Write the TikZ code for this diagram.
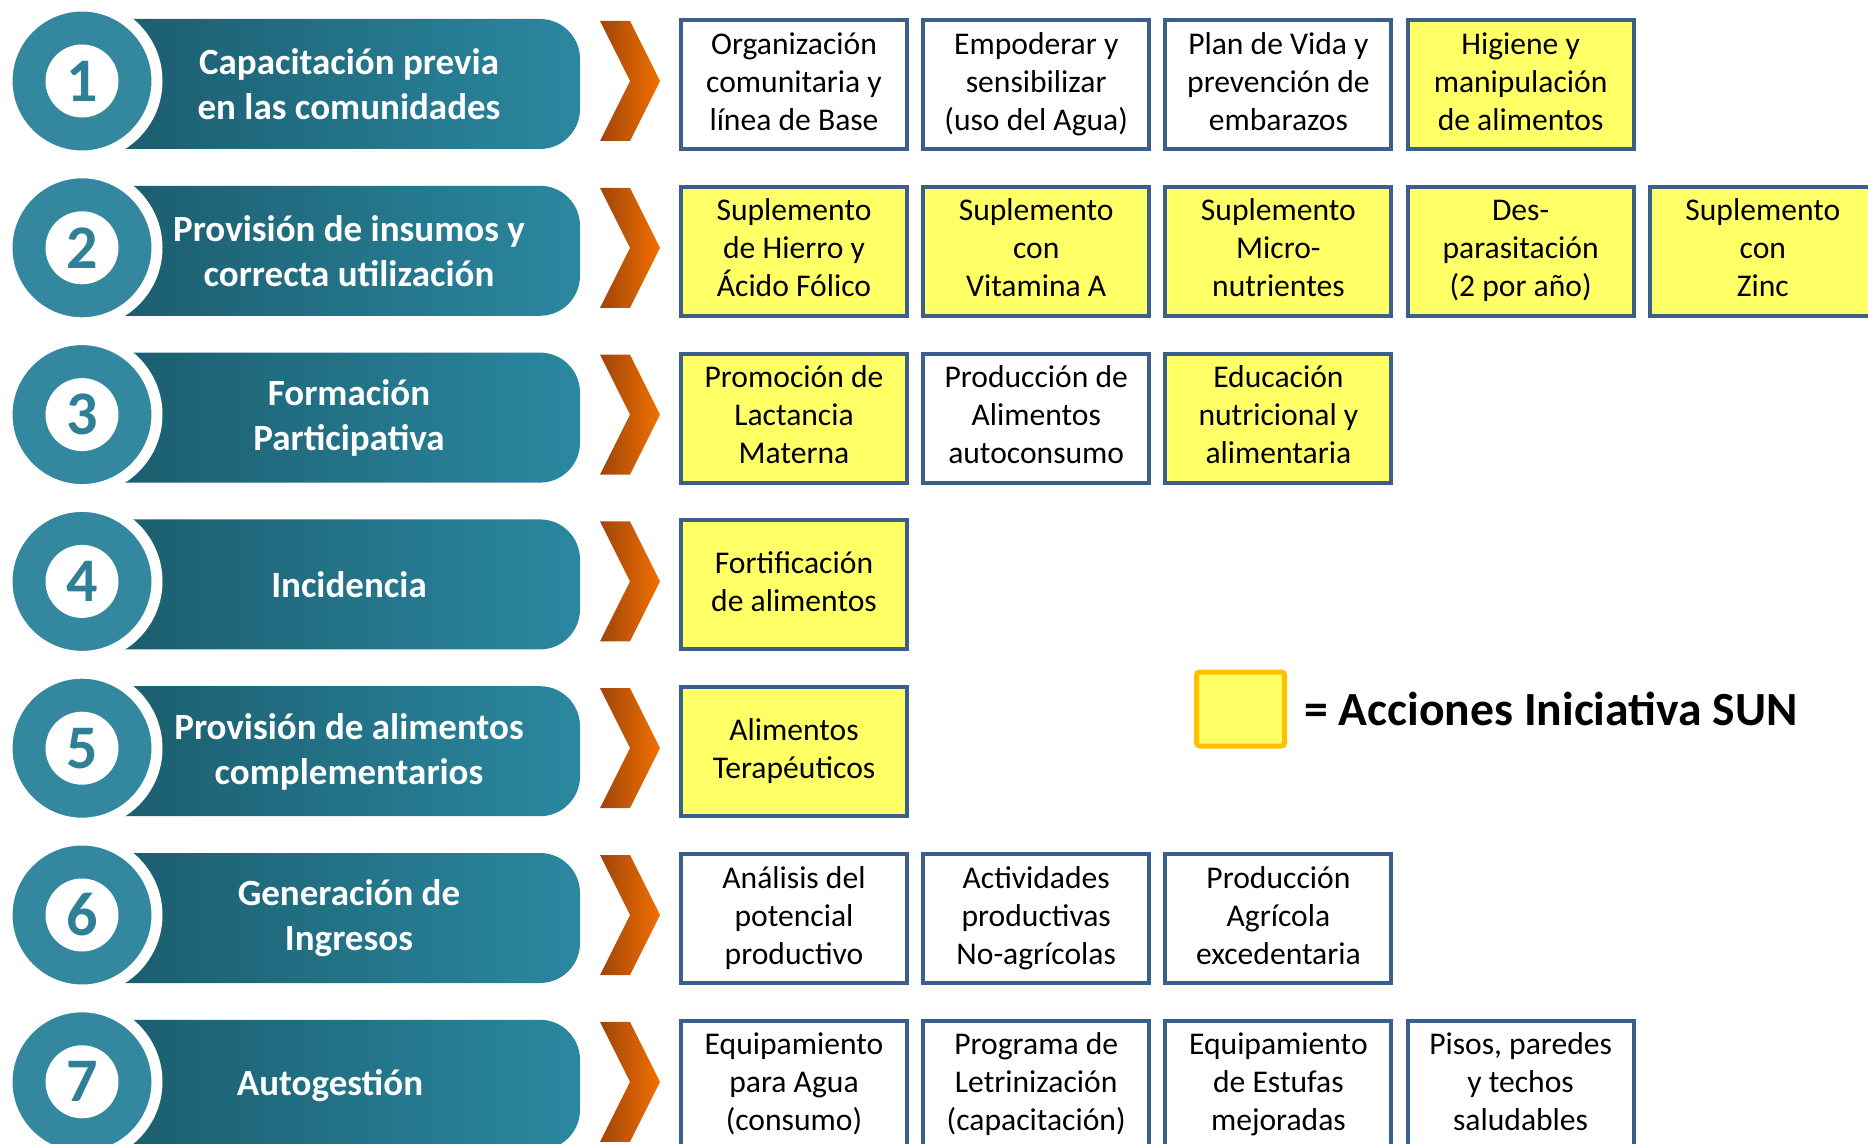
\documentclass[tikz,border=0pt]{standalone}
\usepackage{fontspec}
\setmainfont{Carlito}
\usepackage{tikz}
\usetikzlibrary{positioning}

\definecolor{tealring}{HTML}{33889F}
\definecolor{tealdark}{HTML}{1A5868}
\definecolor{teallight}{HTML}{2A88A0}
\definecolor{tealnum}{HTML}{2F8096}
\definecolor{chevdark}{HTML}{A0440A}
\definecolor{chevlight}{HTML}{F27000}
\definecolor{boxblue}{HTML}{3B5E8B}
\definecolor{sunyellow}{HTML}{FFFF66}
\definecolor{keyorange}{HTML}{FFC000}
\newcommand\actstrut{\rule[-3.3pt]{0pt}{19pt}}

\begin{document}
\begin{tikzpicture}[x=0.5pt, y=0.5pt, node distance=6.1pt,
	ring/.style={circle, fill=tealring, draw=white, line width=5.5pt, minimum size=75pt, inner sep=0pt},
	numdisc/.style={circle, fill=white, minimum size=36.5pt, inner sep=0pt, text=tealnum, font=\bfseries\fontsize{31}{31}\selectfont},
	banner/.style={rectangle, rounded corners=20pt, left color=tealdark, right color=teallight, minimum width=260pt, minimum height=65pt},
	bantext/.style={text=white, align=center, font=\bfseries\fontsize{18.5}{22.5}\selectfont},
	act/.style={rectangle, draw=boxblue, line width=2pt, fill=white, minimum width=113pt, minimum height=64.5pt, inner sep=0pt, align=center,
		font=\fontsize{15.8}{19}\selectfont, execute at begin node=\actstrut, execute at end node=\actstrut},
	sun/.style={act, fill=sunyellow}]
	\useasboundingbox (0,0) rectangle (1868,-1144);
	\clip (0,0) rectangle (1868,-1144);

	\foreach \i/\tx/\txt in {1/349/{Capacitación previa\\en las comunidades},
		2/349/{Provisión de insumos y\\correcta utilización},
		3/349/{Formación\\Participativa},
		4/349/{Incidencia},
		5/349/{Provisión de alimentos\\complementarios},
		6/349/{Generación de\\Ingresos},
		7/330/{Autogestión}} {
		\pgfmathsetmacro\yc{-81-166.8*(\i-1)}
		\node[banner] (ban\i) at (320,\yc-3) {};
		\node[ring] (ring\i) at (82,\yc) {};
		\node[numdisc] (num\i) at (ring\i) {\i};
		\node[bantext] (lab\i) at (\tx,\yc-3.5) {\txt};
		\coordinate (tip\i) at (660,\yc);
		\coordinate (row\i) at (660,\yc-3.5);
		\shade[left color=chevdark, right color=chevlight] (tip\i) ++(-30,0) -- ++(-30,60) -- ++(30,0)
			-- ++(30,-60) -- ++(-30,-60) -- ++(-30,0) -- cycle;
	}

	\node[act, right=9.5pt of row1] (r1a) {Organización\\comunitaria y\\línea de Base};
	\node[act, right=of r1a] (r1b) {Empoderar y\\sensibilizar\\(uso del Agua)};
	\node[act, right=of r1b] (r1c) {Plan de Vida y\\prevención de\\embarazos};
	\node[sun, right=of r1c] (r1d) {Higiene y\\manipulación\\de alimentos};

	\node[sun, right=9.5pt of row2] (r2a) {Suplemento\\de Hierro y\\Ácido Fólico};
	\node[sun, right=of r2a] (r2b) {Suplemento\\con\\Vitamina A};
	\node[sun, right=of r2b] (r2c) {Suplemento\\Micro-\\nutrientes};
	\node[sun, right=of r2c] (r2d) {Des-\\parasitación\\(2 por año)};
	\node[sun, right=of r2d] (r2e) {Suplemento\\con\\Zinc};

	\node[sun, right=9.5pt of row3] (r3a) {Promoción de\\Lactancia\\Materna};
	\node[act, right=of r3a] (r3b) {Producción de\\Alimentos\\autoconsumo};
	\node[sun, right=of r3b] (r3c) {Educación\\nutricional y\\alimentaria};

	\node[sun, right=9.5pt of row4] (r4a) {Fortificación\\de alimentos};

	\node[sun, right=9.5pt of row5] (r5a) {Alimentos\\Terapéuticos};

	\node[act, right=9.5pt of row6] (r6a) {Análisis del\\potencial\\productivo};
	\node[act, right=of r6a] (r6b) {Actividades\\productivas\\No-agrícolas};
	\node[act, right=of r6b] (r6c) {Producción\\Agrícola\\excedentaria};

	\node[act, right=9.5pt of row7] (r7a) {Equipamiento\\para Agua\\(consumo)};
	\node[act, right=of r7a] (r7b) {Programa de\\Letrinización\\(capacitación)};
	\node[act, right=of r7b] (r7c) {Equipamiento\\de Estufas\\mejoradas};
	\node[act, right=of r7c] (r7d) {Pisos, paredes\\y techos\\saludables};

	\node[sun, draw=keyorange, line width=2.5pt, minimum width=44pt, minimum height=37pt, rounded corners=1.5pt] (key) at (1240.5,-709) {};
	\node[right=8.5pt of key, inner sep=0pt, font=\bfseries\fontsize{23.8}{28}\selectfont] (keytext) {= Acciones Iniciativa SUN};
\end{tikzpicture}
\end{document}
